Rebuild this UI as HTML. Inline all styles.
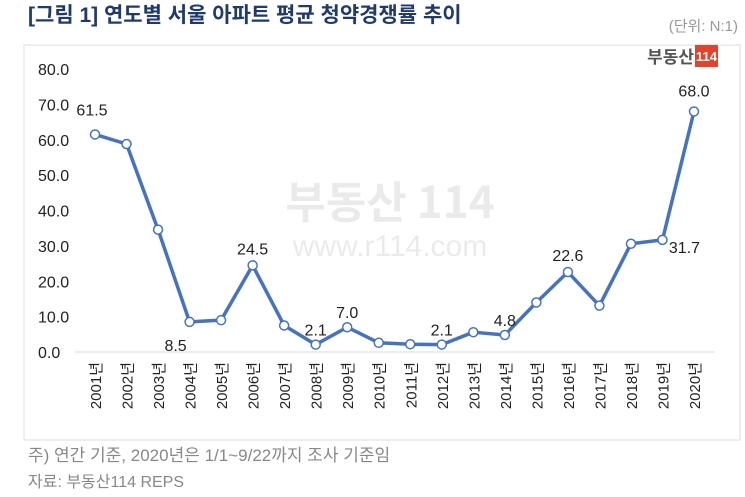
<!DOCTYPE html>
<html><head><meta charset="utf-8"><style>
body{margin:0;width:745px;height:492px;background:#fff;font-family:"Liberation Sans","Noto Sans CJK KR",sans-serif;overflow:hidden}
</style></head><body>
<svg width="745" height="492" xmlns="http://www.w3.org/2000/svg">
<text x="28" y="22" font-size="21" font-weight="bold" fill="#1f3a6e" font-family="Liberation Sans,Noto Sans CJK KR,sans-serif">[그림 1] 연도별 서울 아파트 평균 청약경쟁률 추이</text>
<text x="738" y="31" font-size="15" fill="#999" text-anchor="end" font-family="Liberation Sans,Noto Sans CJK KR,sans-serif">(단위: N:1)</text>
<rect x="24" y="45" width="716" height="395" fill="#fff" stroke="#ddd"/>
<g>
<text x="694" y="63" font-size="17" font-weight="bold" fill="#555" text-anchor="end" font-family="Noto Sans CJK KR,sans-serif">부동산</text>
<rect x="695" y="45" width="23" height="22" fill="#e8402a"/>
<text x="706.5" y="61" font-size="13" font-weight="bold" fill="#fff" text-anchor="middle">114</text>
</g>
<g opacity="0.08">
<text x="390" y="218" font-size="44" font-weight="bold" fill="#000" text-anchor="middle" font-family="Noto Sans CJK KR,sans-serif">부동산 114</text>
<text x="390" y="256" font-size="30" fill="#000" text-anchor="middle">www.r114.com</text>
</g>
<g id="axes"></g>
<g id="plot"></g>
<text x="28" y="461" font-size="17" fill="#888" font-family="Liberation Sans,Noto Sans CJK KR,sans-serif">주) 연간 기준, 2020년은 1/1~9/22까지 조사 기준임</text>
<text x="28" y="487" font-size="16" fill="#888" font-family="Liberation Sans,Noto Sans CJK KR,sans-serif">자료: 부동산114 REPS</text>
</svg>
<script>
const categories=["2001년","2002년","2003년","2004년","2005년","2006년","2007년","2008년","2009년","2010년","2011년","2012년","2013년","2014년","2015년","2016년","2017년","2018년","2019년","2020년"];
const values=[61.5,58.8,34.6,8.5,9.0,24.5,7.5,2.1,7.0,2.6,2.2,2.1,5.6,4.8,14.0,22.6,13.1,30.6,31.7,68.0];
const yTicks=[0,10,20,30,40,50,60,70,80];
const labeled=[0,3,5,7,8,11,13,15,18,19];
const NS="http://www.w3.org/2000/svg";
const x=i=>95+i*(694-95)/(categories.length-1);
const y=v=>352-v*(352-69)/80;
const ax=document.getElementById('axes'),pl=document.getElementById('plot');
function mk(t,a,p){const e=document.createElementNS(NS,t);for(const k in a)e.setAttribute(k,a[k]);p.appendChild(e);return e;}
const base=mk('line',{x1:75,x2:715,y1:y(0),y2:y(0),stroke:'#d9d9d9'},ax);


yTicks.forEach(t=>{const e=mk('text',{x:38,y:y(t)+6,'font-size':16,fill:'#222'},ax);e.textContent=t.toFixed(1);

});
categories.forEach((c,i)=>{const e=mk('text',{transform:`translate(${x(i)+6},${y(0)+10}) rotate(-90)`,'font-size':15,fill:'#222','text-anchor':'end','font-family':'Liberation Sans,Noto Sans CJK KR,sans-serif'},ax);e.textContent=c;

});
const line=mk('polyline',{points:values.map((v,i)=>x(i)+','+y(v)).join(' '),fill:'none',stroke:'#4472c4','stroke-width':3.5,'stroke-linejoin':'round'},pl);


values.forEach((v,i)=>{const c=mk('circle',{cx:x(i),cy:y(v),r:4.5,fill:'#fff',stroke:'#4472c4','stroke-width':1.5},pl);

});
const off={0:[-3,-24],3:[-14,24],5:[0,-16],7:[0,-14],8:[0,-14],11:[0,-14],13:[0,-14],15:[0,-16],18:[22,8],19:[0,-20]};
labeled.forEach(i=>{const o=off[i];const e=mk('text',{x:x(i)+o[0],y:y(values[i])+o[1]+5,'font-size':16,fill:'#222','text-anchor':'middle'},pl);e.textContent=values[i].toFixed(1);

});
</script>
</body></html>
